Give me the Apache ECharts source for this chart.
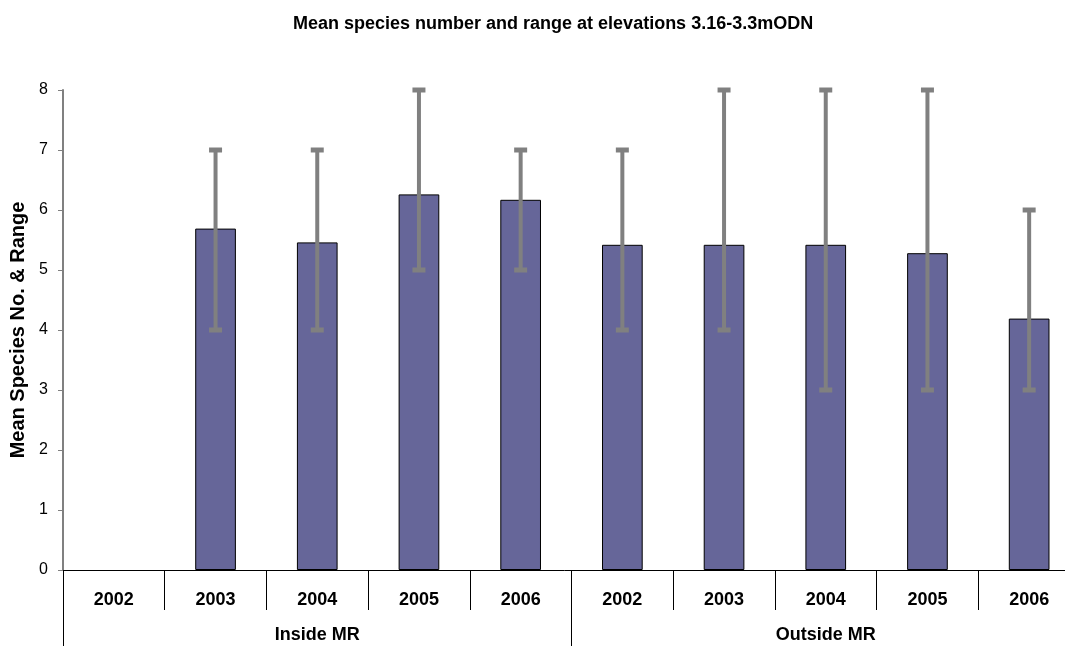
<!DOCTYPE html>
<html>
<head>
    <meta charset="utf-8" />
    <title></title>
    <script type="text/javascript" src="https://cdn.jsdelivr.net/npm/echarts@6/dist/echarts.min.js"></script>
    <style>
        html, body { margin: 0; padding: 0; background: #fff; }
        #main { width: 1065px; height: 646px; }
    </style>
</head>
<body>
    <div id="main"></div>
    <script type="text/javascript">
        var years = ["2002", "2003", "2004", "2005", "2006", "2002", "2003", "2004", "2005", "2006"];
        var groups = ["Inside MR", "Outside MR"];
        var means = [null, 5.69, 5.46, 6.26, 6.17, 5.42, 5.42, 5.42, 5.28, 4.19];
        var lows = [null, 4, 4, 5, 5, 4, 4, 3, 3, 3];
        var highs = [null, 7, 7, 8, 7, 7, 8, 8, 8, 6];

        var rangeData = [];
        for (var i = 0; i < years.length; i++) {
            if (lows[i] != null) rangeData.push([i, lows[i], highs[i]]);
        }

        var font = "Liberation Sans, Arial, sans-serif";
        var myChart = echarts.init(document.getElementById("main"));
        var option = {
            backgroundColor: "#fff",
            animation: false,
            title: {
                text: "Mean species number and range at elevations 3.16-3.3mODN",
                left: 288,
                top: 10,
                textStyle: { fontFamily: font, fontSize: 18, fontWeight: "bold", color: "#000" }
            },
            // the plot runs a little past the right edge of the picture
            grid: { left: 63, top: 90, bottom: 76, width: 1017, outerBoundsMode: "none" },
            xAxis: [{
                type: "category",
                data: years,
                position: "bottom",
                axisLine: { lineStyle: { color: "#000", width: 1 } },
                axisTick: { show: true, length: 40, lineStyle: { color: "#000" } },
                axisLabel: { interval: 0, margin: 21, fontFamily: font, fontSize: 18, fontWeight: "bold", color: "#000" }
            }, {
                type: "category",
                data: groups,
                position: "bottom",
                axisLine: { show: false },
                axisTick: { show: true, length: 80, lineStyle: { color: "#000" } },
                axisLabel: { interval: 0, margin: 56, fontFamily: font, fontSize: 18, fontWeight: "bold", color: "#000" }
            }],
            yAxis: {
                type: "value",
                min: 0,
                max: 8,
                interval: 1,
                name: "Mean Species No. & Range",
                nameLocation: "middle",
                nameGap: 31,
                nameTextStyle: { fontFamily: font, fontSize: 20, fontWeight: "bold", color: "#000" },
                axisLine: { show: true, lineStyle: { color: "#808080", width: 2 } },
                axisTick: { show: true, length: 5, lineStyle: { color: "#808080" } },
                splitLine: { show: false },
                axisLabel: { margin: 15, fontFamily: font, fontSize: 16, color: "#000" }
            },
            series: [{
                type: "bar",
                data: means,
                barWidth: "40%",
                itemStyle: { color: "#666699", borderColor: "#000", borderWidth: 1 }
            }, {
                type: "custom",
                data: rangeData,
                clip: false,
                z: 10,
                renderItem: function (params, api) {
                    var lo = api.coord([api.value(0), api.value(1)]);
                    var hi = api.coord([api.value(0), api.value(2)]);
                    var style = { stroke: "#808080", lineWidth: 4 };
                    var cap = { stroke: "#808080", lineWidth: 5 };
                    return {
                        type: "group",
                        children: [
                            { type: "line", shape: { x1: hi[0], y1: hi[1], x2: lo[0], y2: lo[1] }, style: style },
                            { type: "line", shape: { x1: hi[0] - 6.5, y1: hi[1], x2: hi[0] + 6.5, y2: hi[1] }, style: cap },
                            { type: "line", shape: { x1: lo[0] - 6.5, y1: lo[1], x2: lo[0] + 6.5, y2: lo[1] }, style: cap }
                        ]
                    };
                }
            }]
        };
        myChart.setOption(option);
    </script>
</body>
</html>
